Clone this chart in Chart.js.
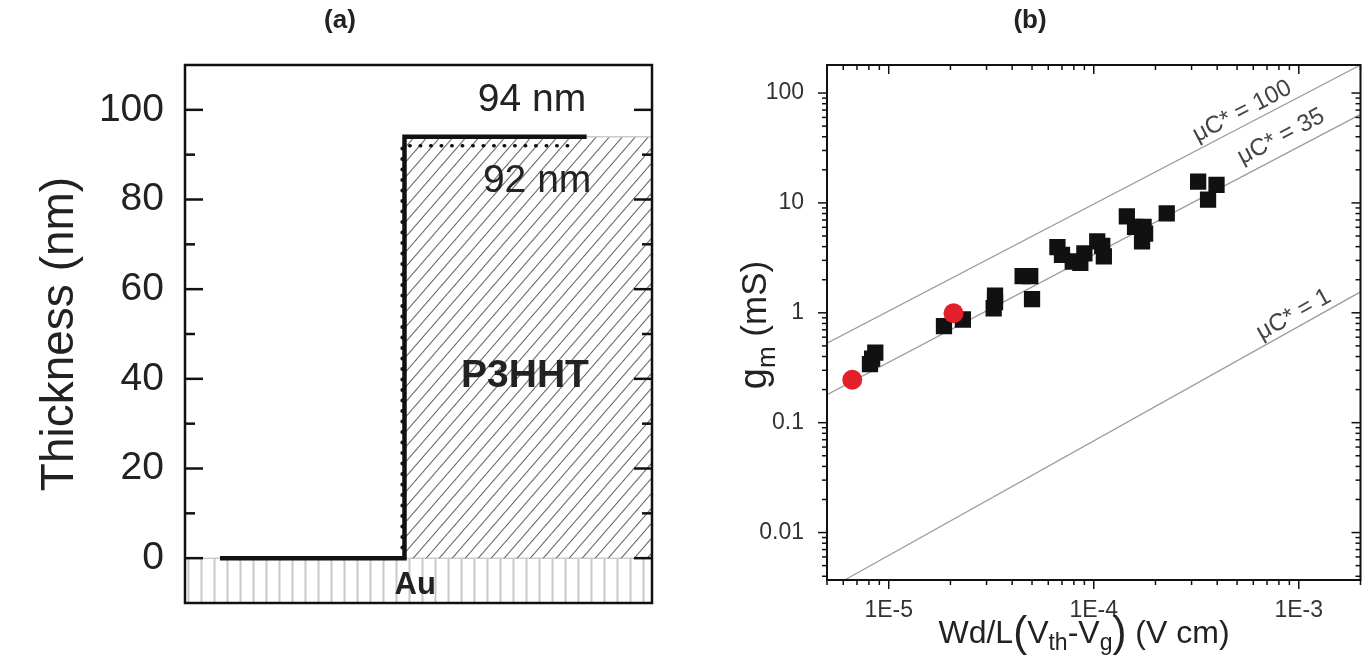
<!DOCTYPE html>
<html>
<head>
<meta charset="utf-8">
<title>Film thickness and transconductance</title>
<script src="https://cdn.jsdelivr.net/npm/chart.js@4.4.1/dist/chart.umd.min.js"></script>
<style>
  body { margin: 0; background: #fff; }
  #page { position: relative; width: 1372px; height: 662px; overflow: hidden; font-family: "Liberation Sans", Arial, sans-serif; }
  .panel { position: absolute; top: 0; }
  .tag { position: absolute; top: 4px; transform: translateX(-50%); font-size: 26px; font-weight: bold; color: #222; }
</style>
</head>
<body>
<div id="page">
  <canvas id="chartA" class="panel" width="686" height="662" style="left:0"></canvas>
  <canvas id="chartB" class="panel" width="686" height="662" style="left:686px"></canvas>
  <div class="tag" style="left:340px">(a)</div>
  <div class="tag" style="left:1030px">(b)</div>
</div>
<script>
// ---- panel (a): step profile, thickness in nm ----
const stepX = [7.5, 47, 47, 86];
const stepY = [0, 0, 94, 94];
const dottedX = [46.5, 46.5, 83];
const dottedY = [0, 92, 92];
const filmX = [47, 100];
const filmY = [94, 94];
const goldX = [0, 100];
const goldY = [0, 0];
const thickTicks = [0, 20, 40, 60, 80, 100];
const thickMinor = [10, 30, 50, 70, 90];

// ---- panel (b): gm vs Wd/L(Vth-Vg) ----
const squareX = [8.6e-6, 8.3e-6, 8.1e-6, 1.86e-5, 2.3e-5, 3.3e-5, 3.3e-5, 3.25e-5, 4.5e-5, 4.9e-5, 5.0e-5,
                 6.65e-5, 7.0e-5, 7.9e-5, 8.6e-5, 9.0e-5, 1.04e-4, 1.12e-4, 1.1e-4,
                 1.45e-4, 1.59e-4, 1.75e-4, 1.72e-4, 1.78e-4, 2.27e-4, 3.23e-4, 3.97e-4, 3.61e-4];
const squareY = [0.435, 0.383, 0.341, 0.755, 0.869, 1.43, 1.25, 1.10, 2.16, 2.16, 1.33,
                 3.97, 3.37, 2.93, 2.84, 3.47, 4.47, 3.27, 4.06,
                 7.54, 6.05, 6.05, 4.47, 5.26, 8.03, 15.6, 14.6, 10.7];
const circleX = [6.64e-6, 2.07e-5];
const circleY = [0.246, 0.99];
const guide100X = [5e-6, 2e-3];
const guide100Y = [0.53, 180];
const guide35X = [5e-6, 2e-3];
const guide35Y = [0.18, 64];
const guide1X = [6.1e-6, 2e-3];
const guide1Y = [0.0037, 1.55];
const xTicks = [1e-5, 1e-4, 1e-3];
const xTickLabels = ['1E-5', '1E-4', '1E-3'];
const yTicks = [0.01, 0.1, 1, 10, 100];
const yTickLabels = ['0.01', '0.1', '1', '10', '100'];

const FONT = '"Liberation Sans", Arial, sans-serif';
Chart.defaults.font.family = FONT;
Chart.defaults.color = '#222';

const pts = (xs, ys) => xs.map((x, i) => ({ x, y: ys[i] }));

function logMinor(lo, hi) {
  const out = [];
  for (let e = Math.floor(Math.log10(lo)); e <= Math.ceil(Math.log10(hi)); e++) {
    for (let m = 2; m <= 9; m++) out.push(m * Math.pow(10, e));
  }
  return out;
}

function hatch(kind) {
  const c = document.createElement('canvas');
  const g = c.getContext('2d');
  if (kind === 'diag') {
    const w = 13, h = 15;
    c.width = w; c.height = h;
    g.strokeStyle = '#666'; g.lineWidth = 1.1;
    [-w, 0, w].forEach(off => {
      g.beginPath();
      g.moveTo(off - w * 0.1, h * 1.1);
      g.lineTo(off + w * 1.1, -h * 0.1);
      g.stroke();
    });
  } else {
    c.width = 13; c.height = 10;
    g.strokeStyle = '#c8c8c8'; g.lineWidth = 2;
    g.beginPath(); g.moveTo(6.5, 0); g.lineTo(6.5, 10); g.stroke();
  }
  return g.createPattern(c, 'repeat');
}

function drawRich(ctx, t) {
  ctx.save();
  ctx.translate(t.x, t.y);
  ctx.rotate((t.rotate || 0) * Math.PI / 180);
  ctx.textAlign = 'left';
  ctx.textBaseline = 'alphabetic';
  ctx.fillStyle = '#222';
  let total = 0;
  t.parts.forEach(p => { ctx.font = p.size + 'px ' + FONT; total += ctx.measureText(p.text).width; });
  let x = -total / 2;
  t.parts.forEach(p => {
    ctx.font = p.size + 'px ' + FONT;
    ctx.fillText(p.text, x, p.dy || 0);
    x += ctx.measureText(p.text).width;
  });
  ctx.restore();
}

// frame, mirrored ticks, in-plot notes and rich titles
const decor = {
  id: 'decor',
  afterDatasetsDraw(chart, args, o) {
    const ctx = chart.ctx, a = chart.chartArea;
    const sx = chart.scales.x, sy = chart.scales.y;
    const sides = o.sides;
    ctx.save();
    ctx.strokeStyle = '#111';
    ctx.lineWidth = o.tickWidth;
    const seg = (x1, y1, x2, y2) => { ctx.beginPath(); ctx.moveTo(x1, y1); ctx.lineTo(x2, y2); ctx.stroke(); };
    const ok = (p, lo, hi) => p >= lo - 0.5 && p <= hi + 0.5;
    [[o.yMajor, o.majorLen], [o.yMinor, o.minorLen]].forEach(([vals, len]) => (vals || []).forEach(v => {
      const y = sy.getPixelForValue(v);
      if (!ok(y, a.top, a.bottom)) return;
      if (sides.left) seg(a.left, y, a.left + sides.left * len, y);
      if (sides.right) seg(a.right, y, a.right - sides.right * len, y);
    }));
    [[o.xMajor, o.majorLen], [o.xMinor, o.minorLen]].forEach(([vals, len]) => (vals || []).forEach(v => {
      const x = sx.getPixelForValue(v);
      if (!ok(x, a.left, a.right)) return;
      if (sides.bottom) seg(x, a.bottom, x, a.bottom - sides.bottom * len);
      if (sides.top) seg(x, a.top, x, a.top + sides.top * len);
    }));
    ctx.lineWidth = o.frameWidth;
    ctx.strokeRect(a.left, a.top, a.right - a.left, a.bottom - a.top);

    (o.notes || []).forEach(n => {
      ctx.save();
      ctx.font = (n.bold ? 'bold ' : '') + n.size + 'px ' + FONT;
      ctx.fillStyle = n.color || '#222';
      ctx.textAlign = 'center';
      ctx.textBaseline = 'middle';
      ctx.translate(sx.getPixelForValue(n.x), sy.getPixelForValue(n.y));
      if (n.along) {
        const [xs, ys] = n.along;
        ctx.rotate(Math.atan2(sy.getPixelForValue(ys[1]) - sy.getPixelForValue(ys[0]),
                              sx.getPixelForValue(xs[1]) - sx.getPixelForValue(xs[0])));
      }
      ctx.fillText(n.text, 0, 0);
      ctx.restore();
    });
    (o.titles || []).forEach(t => drawRich(ctx, t));
    ctx.restore();
  }
};

new Chart(document.getElementById('chartA'), {
  type: 'line',
  data: {
    datasets: [
      { data: pts(stepX, stepY), borderColor: '#111', borderWidth: 4.5, pointRadius: 0, fill: false, borderJoinStyle: 'miter' },
      { data: pts(dottedX, dottedY), borderColor: '#111', borderWidth: 3.5, borderDash: [0.5, 10], borderCapStyle: 'round', pointRadius: 0, fill: false },
      { data: pts(filmX, filmY), borderColor: '#cccccc', borderWidth: 1.5, pointRadius: 0, fill: 'origin', backgroundColor: hatch('diag') },
      { data: pts(goldX, goldY), borderColor: '#cccccc', borderWidth: 1.5, pointRadius: 0, fill: 'start', backgroundColor: hatch('vert') }
    ]
  },
  options: {
    responsive: false,
    animation: false,
    events: [],
    layout: { padding: { left: 0, right: 34, top: 65, bottom: 59 } },
    scales: {
      x: { type: 'linear', min: 0, max: 100, display: false },
      y: {
        type: 'linear', min: -10, max: 110,
        grid: { display: false }, border: { display: false },
        afterBuildTicks: ax => { ax.ticks = thickTicks.map(value => ({ value })); },
        afterFit: ax => { ax.width = 185; },
        ticks: { font: { size: 39 }, color: '#222', padding: 13 },
        title: { display: true, text: 'Thickness (nm)', font: { size: 46 }, color: '#222', padding: { top: 33, bottom: 0 } }
      }
    },
    plugins: {
      legend: { display: false },
      tooltip: { enabled: false },
      decor: {
        sides: { left: 1, right: 1 },
        yMajor: thickTicks, yMinor: thickMinor,
        majorLen: 18, minorLen: 10, tickWidth: 2.5, frameWidth: 2.5,
        notes: [
          { text: '94 nm', x: 74.3, y: 102.2, size: 39 },
          { text: '92 nm', x: 75.4, y: 84, size: 39 },
          { text: 'P3HHT', x: 72.8, y: 40.5, size: 39, bold: true },
          { text: 'Au', x: 49.3, y: -6, size: 31, bold: true }
        ]
      }
    }
  },
  plugins: [decor]
});

new Chart(document.getElementById('chartB'), {
  type: 'scatter',
  data: {
    datasets: [
      { data: pts(circleX, circleY), pointStyle: 'circle', pointRadius: 10, backgroundColor: '#e3202a', borderWidth: 0 },
      { data: pts(squareX, squareY), pointStyle: 'rect', pointRadius: 11.5, backgroundColor: '#111', borderWidth: 0 },
      { data: pts(guide100X, guide100Y), showLine: true, borderColor: '#9a9a9a', borderWidth: 1.2, pointRadius: 0 },
      { data: pts(guide35X, guide35Y), showLine: true, borderColor: '#9a9a9a', borderWidth: 1.2, pointRadius: 0 },
      { data: pts(guide1X, guide1Y), showLine: true, borderColor: '#9a9a9a', borderWidth: 1.2, pointRadius: 0 }
    ]
  },
  options: {
    responsive: false,
    animation: false,
    events: [],
    layout: { padding: { left: 0, right: 6, top: 65, bottom: 0 } },
    scales: {
      x: {
        type: 'logarithmic', min: 5e-6, max: 2e-3,
        grid: { display: false }, border: { display: false },
        afterBuildTicks: ax => { ax.ticks = xTicks.map(value => ({ value })); },
        afterFit: ax => { ax.height = 82; },
        ticks: { font: { size: 23 }, color: '#333', padding: 9, autoSkip: false, maxRotation: 0,
                 callback: (v, i) => xTickLabels[i] }
      },
      y: {
        type: 'logarithmic', min: 0.0037, max: 180,
        grid: { display: false }, border: { display: false },
        afterBuildTicks: ax => { ax.ticks = yTicks.map(value => ({ value })); },
        afterFit: ax => { ax.width = 141; },
        ticks: { font: { size: 23 }, color: '#333', padding: 15, autoSkip: false,
                 callback: (v, i) => yTickLabels[i] }
      }
    },
    plugins: {
      legend: { display: false },
      tooltip: { enabled: false },
      decor: {
        sides: { left: -1, bottom: -1, top: 1, right: 1 },
        yMajor: yTicks, yMinor: logMinor(0.001, 100),
        xMajor: xTicks, xMinor: logMinor(1e-6, 1e-3),
        majorLen: 9, minorLen: 5, tickWidth: 1.5, frameWidth: 2,
        notes: [
          { text: '\u03bcC* = 100', x: 5.3e-4, y: 68, size: 24, color: '#444', along: [guide100X, guide100Y] },
          { text: '\u03bcC* = 35', x: 8.2e-4, y: 40, size: 24, color: '#444', along: [guide35X, guide35Y] },
          { text: '\u03bcC* = 1', x: 9.46e-4, y: 0.96, size: 24, color: '#444', along: [guide1X, guide1Y] }
        ],
        titles: [
          { x: 398, y: 643, parts: [
            { text: 'Wd/L', size: 32 }, { text: '(', size: 42, dy: 3 }, { text: 'V', size: 32 },
            { text: 'th', size: 23, dy: 7 }, { text: '-V', size: 32 }, { text: 'g', size: 23, dy: 7 },
            { text: ')', size: 42, dy: 3 }, { text: ' (V cm)', size: 32 } ] },
          { x: 80, y: 325, rotate: -90, parts: [
            { text: 'g', size: 38 }, { text: 'm', size: 26, dy: 9 }, { text: ' (mS)', size: 35 } ] }
        ]
      }
    }
  },
  plugins: [decor]
});
</script>
</body>
</html>
